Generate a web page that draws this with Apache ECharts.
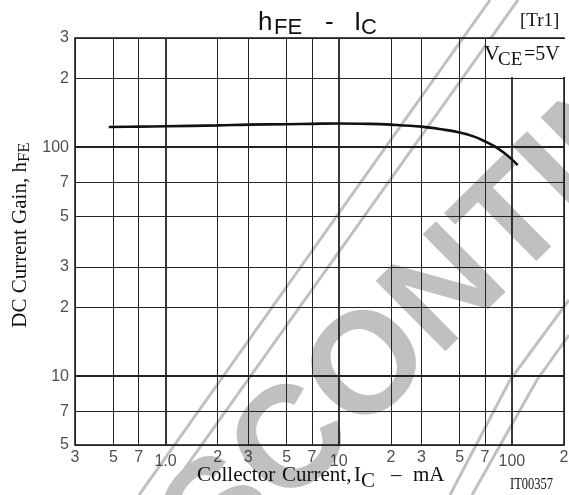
<!DOCTYPE html>
<html><head><meta charset="utf-8">
<script src="https://cdn.jsdelivr.net/npm/echarts@6/dist/echarts.min.js"></script>
<style>html,body{margin:0;padding:0;background:#fff}#c{width:569px;height:495px}</style>
</head><body><div id="c"></div>
<script>
// ---- data ----
const xTickValues = [0.3, 0.5, 0.7, 1, 2, 3, 5, 7, 10, 20, 30, 50, 70, 100, 200];
const xTickLabels = ['3', '5', '7', '1.0', '2', '3', '5', '7', '10', '2', '3', '5', '7', '100', '2'];
const yTickValues = [5, 7, 10, 20, 30, 50, 70, 100, 200, 300];
const yTickLabels = ['5', '7', '10', '2', '3', '5', '7', '100', '2', '3'];
const decadesX = [1, 10, 100];
const decadesY = [10, 100];
const icValues  = [0.47, 0.7, 1, 2, 3, 5, 7, 10, 15, 20, 30, 40, 50, 60, 70, 80, 90, 100, 108];
const hfeValues = [122.5, 123, 123.5, 124.5, 125.5, 126, 126.5, 127, 126.5, 125.5, 123, 119.5, 116, 111.5, 106, 100.5, 94.5, 88.5, 83.5];

const chart = echarts.init(document.getElementById('c'), null, {renderer: 'canvas'});
const SANS = '"Liberation Sans", Arial, sans-serif';
const SERIF = '"Liberation Serif", "Times New Roman", serif';
const WM = '#c0c0c0';

function txt(text, x, y, size, family, extra) {
  return Object.assign({
    type: 'text', x: x, y: y, z: 20, silent: true,
    style: {text: text, fontSize: size, fontFamily: family, fill: '#111',
            textAlign: 'left', textVerticalAlign: 'middle'}
  }, extra || {});
}

const gridLines = []
  .concat(xTickValues.map(v => ({xAxis: v, lineStyle: {width: decadesX.includes(v) ? 1.8 : 1}})))
  .concat(yTickValues.map(v => ({yAxis: v, lineStyle: {width: decadesY.includes(v) ? 1.8 : 1}})));

const option = {
  animation: false,
  backgroundColor: '#fff',
  grid: {left: 75, right: 5, top: 38, bottom: 50, show: true, borderColor: '#111', borderWidth: 1.5, backgroundColor: 'rgba(0,0,0,0)'},
  xAxis: {type: 'log', logBase: 10, min: 0.3, max: 200,
    axisLine: {show: false}, axisTick: {show: false}, axisLabel: {show: false}, splitLine: {show: false}},
  yAxis: {type: 'log', logBase: 10, min: 5, max: 300,
    axisLine: {show: false}, axisTick: {show: false}, axisLabel: {show: false}, splitLine: {show: false}},
  series: [
    { // grid lines
      type: 'line', z: 1, data: [[1, 100]], showSymbol: false, lineStyle: {opacity: 0}, silent: true,
      markLine: {silent: true, symbol: ['none', 'none'], label: {show: false},
        lineStyle: {color: '#222', type: 'solid', width: 1}, emphasis: {disabled: true},
        data: gridLines}
    },
    { // x tick labels
      type: 'scatter', z: 5, symbolSize: 0, silent: true, clip: false,
      data: xTickValues.map((v, i) => ({value: [v, 5], label: {formatter: xTickLabels[i], distance: decadesX.includes(v) ? 9 : 5}})),
      label: {show: true, position: 'bottom', fontSize: 16, fontFamily: SANS, color: '#222'}
    },
    { // y tick labels
      type: 'scatter', z: 5, symbolSize: 0, silent: true, clip: false,
      data: yTickValues.map((v, i) => ({value: [0.3, v], label: {formatter: yTickLabels[i]}})),
      label: {show: true, position: 'left', distance: 6, fontSize: 16, fontFamily: SANS, color: '#222'}
    },
    { // hFE curve
      type: 'line', z: 6, smooth: 0.4, showSymbol: false, silent: true,
      lineStyle: {color: '#111', width: 2.6},
      data: icValues.map((x, i) => [x, hfeValues[i]])
    }
  ],
  graphic: [
    // watermark
    {type: 'text', x: 476, y: 265, rotation: 0.78, z: -1, silent: true,
      style: {text: 'DISCONTINUED', fontSize: 144, fontWeight: 'bold', fontFamily: SANS, fill: WM,
        textAlign: 'center', textVerticalAlign: 'middle'}},
    {type: 'line', z: -1, silent: true, shape: {x1: 139, y1: 495, x2: 490, y2: 0}, style: {stroke: WM, lineWidth: 3}},
    {type: 'line', z: -1, silent: true, shape: {x1: 166, y1: 495, x2: 518, y2: 0}, style: {stroke: WM, lineWidth: 3}},
    {type: 'polyline', z: -1, silent: true, shape: {points: [[450, 495], [510, 380], [569, 300]]}, style: {stroke: WM, lineWidth: 3, fill: null}},
    {type: 'polyline', z: -1, silent: true, shape: {points: [[472, 495], [537, 380], [569, 335]]}, style: {stroke: WM, lineWidth: 3, fill: null}},
    // title
    txt('h', 258, 23, 26, SANS),
    txt('FE', 274, 28, 22, SANS),
    txt('-', 325, 23, 26, SANS),
    txt('I', 354, 23, 26, SANS),
    txt('C', 361, 28, 22, SANS),
    txt('[Tr1]', 520, 21.5, 19, SERIF),
    // VCE box
    {type: 'rect', z: 15, silent: true, shape: {x: 486, y: 39, width: 79, height: 38}, style: {fill: '#fff'}},
    txt('V', 484, 54.5, 22, SERIF),
    txt('CE', 498, 60.5, 19, SERIF),
    txt('=5V', 524, 55, 20, SERIF),
    // x axis title
    txt('Collector', 197, 475, 21, SERIF),
    txt('Current,', 282, 475, 21, SERIF),
    txt('I', 354, 475, 21, SERIF),
    txt('C', 361, 481, 21, SERIF),
    txt('\u2013', 391, 475, 21, SERIF),
    txt('mA', 413, 475, 21, SERIF),
    txt('IT00357', 510, 484.5, 16, SERIF, {scaleX: 0.78}),
    // y axis title
    {type: 'text', x: 20.5, y: 235, rotation: Math.PI / 2, z: 20, silent: true,
      style: {text: '{a|DC Current Gain, h}{b|FE}', textAlign: 'center', textVerticalAlign: 'middle',
        rich: {a: {fontSize: 21, fontFamily: SERIF, fill: '#111'},
               b: {fontSize: 17, fontFamily: SERIF, fill: '#111', padding: [8, 0, 0, 0]}}}}
  ]
};
chart.setOption(option);
</script>
</body></html>
